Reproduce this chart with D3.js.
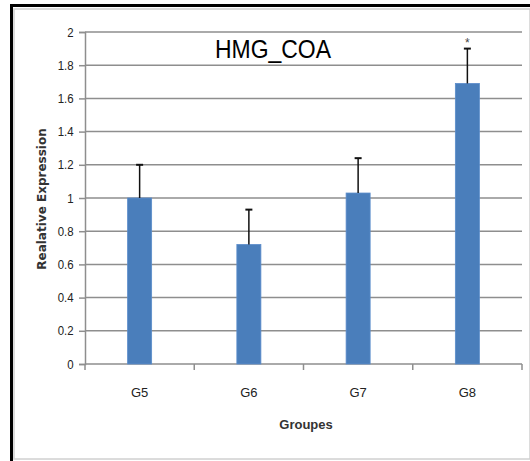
<!DOCTYPE html>
<html><head><meta charset="utf-8">
<script src="https://cdn.jsdelivr.net/npm/d3@7"></script>
<style>body{margin:0;background:#fff}svg{display:block}</style>
</head><body>
<script>
const categories = ["G5","G6","G7","G8"];
const values = [1.0, 0.72, 1.03, 1.69];
const errors = [0.20, 0.21, 0.21, 0.21];
const significance = ["","","","*"];
const yTicks = [0,0.2,0.4,0.6,0.8,1,1.2,1.4,1.6,1.8,2];
const title = "HMG_COA";
const xTitle = "Groupes";
const yTitle = "Realative Expression";

(function(){
const W = 530, H = 461;
const svg = d3.select("body").append("svg").attr("width", W).attr("height", H);
const font = "'Liberation Sans', sans-serif";

// frame
svg.append("rect").attr("x",14).attr("y",9).attr("width",W-14).attr("height",450)
  .attr("fill","#fff").attr("stroke","#d0d0d0").attr("stroke-width",1.5);
svg.append("path").attr("d",`M11.5,${H} V5.5 H${W}`).attr("fill","none").attr("stroke","#000").attr("stroke-width",3);

const pLeft = 85, pRight = 522, pTop = 32, pBottom = 364;
const x = d3.scaleBand().domain(categories).range([pLeft,pRight]).paddingInner(0.78).paddingOuter(0.39);
const y = d3.scaleLinear().domain([0,2]).range([pBottom,pTop]);

// grid
svg.append("g").selectAll("line").data(yTicks.filter(d=>d>0)).join("line")
  .attr("x1",pLeft).attr("x2",pRight).attr("y1",d=>y(d)).attr("y2",d=>y(d))
  .attr("stroke","#8e8e8e").attr("stroke-width",1.5);

// y axis
const ya = svg.append("g").attr("transform",`translate(${pLeft},0)`)
  .call(d3.axisLeft(y).tickValues(yTicks).tickSize(6).tickFormat(d3.format("~g")));
ya.select(".domain").attr("stroke","#8e8e8e").attr("stroke-width",1.5);
ya.selectAll(".tick line").attr("stroke","#8e8e8e").attr("stroke-width",1.5);
ya.selectAll("text").attr("font-family",font).attr("font-size",13).attr("fill","#222").attr("x",-12)
  .attr("transform","scale(0.88,1)").attr("dx",-1);

// x axis
const xb = d3.scaleLinear().domain([0,categories.length]).range([pLeft,pRight]);
svg.append("line").attr("x1",pLeft).attr("x2",pRight).attr("y1",pBottom).attr("y2",pBottom)
  .attr("stroke","#8e8e8e").attr("stroke-width",1.5);
svg.append("g").selectAll("line").data(d3.range(categories.length+1)).join("line")
  .attr("x1",d=>xb(d)).attr("x2",d=>xb(d)).attr("y1",pBottom).attr("y2",pBottom+6)
  .attr("stroke","#8e8e8e").attr("stroke-width",1.5);
svg.append("g").selectAll("text").data(categories).join("text")
  .attr("x",d=>x(d)+x.bandwidth()/2).attr("y",pBottom+33).attr("text-anchor","middle")
  .attr("font-family",font).attr("font-size",13).attr("fill","#222").text(d=>d);

// bars
svg.append("g").selectAll("rect").data(categories).join("rect")
  .attr("x",d=>x(d)).attr("width",x.bandwidth())
  .attr("y",(d,i)=>y(values[i])).attr("height",(d,i)=>y(0)-y(values[i]))
  .attr("fill","#4a7ebb").attr("stroke","#5b8ccb").attr("stroke-width",0.8);

// error bars
const eg = svg.append("g");
categories.forEach((c,i)=>{
  const cx = x(c)+x.bandwidth()/2;
  eg.append("line").attr("x1",cx).attr("x2",cx).attr("y1",y(values[i])).attr("y2",y(values[i]+errors[i]))
    .attr("stroke","#111").attr("stroke-width",1.5);
  eg.append("line").attr("x1",cx-3.5).attr("x2",cx+3.5).attr("y1",y(values[i]+errors[i])).attr("y2",y(values[i]+errors[i]))
    .attr("stroke","#111").attr("stroke-width",2);
  if (significance[i]) eg.append("text").attr("x",cx).attr("y",y(values[i]+errors[i])-2)
    .attr("text-anchor","middle").attr("font-family",font).attr("font-size",12).attr("fill","#444").text(significance[i]);
});

// titles
svg.append("text").attr("x",273).attr("y",58).attr("text-anchor","middle")
  .attr("font-family",font).attr("font-size",26).attr("fill","#000")
  .attr("textLength",116).attr("lengthAdjust","spacingAndGlyphs").text(title);
svg.append("text").attr("x",306).attr("y",429).attr("text-anchor","middle")
  .attr("font-family",font).attr("font-size",13).attr("font-weight","bold").attr("fill","#333").text(xTitle);
svg.append("text").attr("transform","translate(46,199) rotate(-90)").attr("text-anchor","middle")
  .attr("font-family","'DejaVu Sans', sans-serif").attr("font-size",12).attr("font-weight","bold").attr("fill","#333")
  .text(yTitle);
})();
</script>
</body></html>
